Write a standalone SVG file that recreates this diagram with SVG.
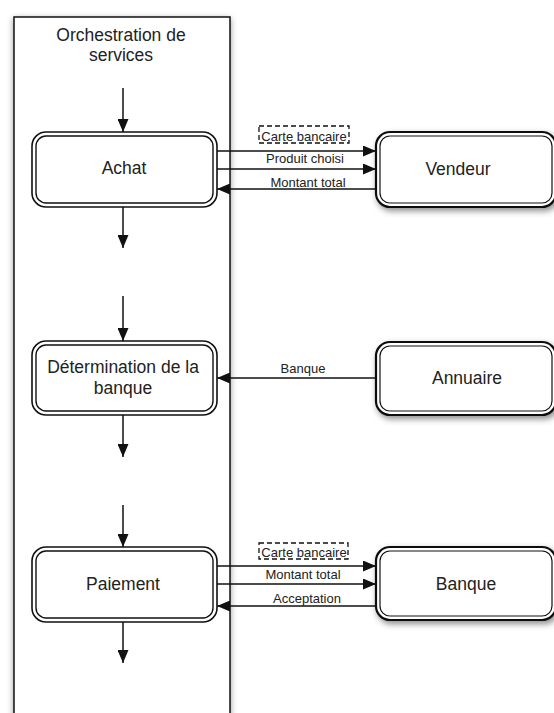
<svg xmlns="http://www.w3.org/2000/svg" width="554" height="713" viewBox="0 0 554 713">
  <style>
    .lbl { font-family: "Liberation Sans", Arial, sans-serif; fill: #222; text-anchor: middle; }
    .main { font-size: 17.5px; }
    .small { font-size: 13px; }
    .outer { fill: #fff; stroke: #111; stroke-width: 1.6; }
    .inner { fill: none; stroke: #111; stroke-width: 1.4; }
    .outerR { fill: #fff; stroke: #111; stroke-width: 2.2; }
    .innerR { fill: none; stroke: #111; stroke-width: 1.2; }
    .flow { stroke: #111; stroke-width: 1.5; fill: none; marker-end: url(#head); }
    .dash { fill: none; stroke: #111; stroke-width: 1.3; stroke-dasharray: 5 3; }
  </style>
  <defs>
    <marker id="head" markerUnits="userSpaceOnUse" markerWidth="14" markerHeight="11" refX="13" refY="5.5" orient="auto">
      <path d="M0,0 L13,5.5 L0,11 z" fill="#111"/>
    </marker>
    <filter id="shadow" x="-20%" y="-20%" width="150%" height="160%">
      <feDropShadow dx="2" dy="3" stdDeviation="3" flood-color="#000" flood-opacity="0.45"/>
    </filter>
    <filter id="laneShadow" x="-10%" y="-5%" width="120%" height="110%">
      <feDropShadow dx="0" dy="2" stdDeviation="3" flood-color="#000" flood-opacity="0.4"/>
    </filter>
  </defs>

  <!-- orchestration lane -->
  <g id="lane">
    <rect x="14" y="17" width="216" height="720" fill="#fff" stroke="#111" stroke-width="1.5" filter="url(#laneShadow)"/>
    <text class="lbl main" x="121" y="41">Orchestration de</text>
    <text class="lbl main" x="121" y="61">services</text>
  </g>

  <!-- steps of the lane -->
  <g id="achat">
    <rect class="outer" x="32" y="132" width="185" height="75" rx="14"/>
    <rect class="inner" x="36" y="136" width="177" height="67" rx="10"/>
    <text class="lbl main" x="124" y="174">Achat</text>
  </g>
  <g id="determination">
    <rect class="outer" x="32" y="341" width="185" height="74" rx="14"/>
    <rect class="inner" x="36" y="345" width="177" height="66" rx="10"/>
    <text class="lbl main" x="123" y="373">Détermination de la</text>
    <text class="lbl main" x="123" y="394">banque</text>
  </g>
  <g id="paiement">
    <rect class="outer" x="32" y="547" width="185" height="75" rx="14"/>
    <rect class="inner" x="36" y="551" width="177" height="67" rx="10"/>
    <text class="lbl main" x="123" y="590">Paiement</text>
  </g>

  <!-- external services -->
  <g id="vendeur">
    <rect class="outerR" x="376" y="132" width="180" height="75" rx="14" filter="url(#shadow)"/>
    <rect class="innerR" x="380" y="136" width="172" height="67" rx="10"/>
    <text class="lbl main" x="458" y="175">Vendeur</text>
  </g>
  <g id="annuaire">
    <rect class="outerR" x="376" y="342" width="180" height="73" rx="14" filter="url(#shadow)"/>
    <rect class="innerR" x="380" y="346" width="172" height="65" rx="10"/>
    <text class="lbl main" x="467" y="384">Annuaire</text>
  </g>
  <g id="banque">
    <rect class="outerR" x="376" y="547" width="180" height="73" rx="14" filter="url(#shadow)"/>
    <rect class="innerR" x="380" y="551" width="172" height="65" rx="10"/>
    <text class="lbl main" x="466" y="590">Banque</text>
  </g>

  <!-- connectors -->
  <g id="connectors">
    <line class="flow" x1="123" y1="88" x2="123" y2="132"/>
    <line class="flow" x1="123" y1="207" x2="123" y2="248"/>
    <line class="flow" x1="123" y1="296" x2="123" y2="341"/>
    <line class="flow" x1="123" y1="415" x2="123" y2="457"/>
    <line class="flow" x1="123" y1="505" x2="123" y2="547"/>
    <line class="flow" x1="123" y1="622" x2="123" y2="663"/>

    <line class="flow" x1="217" y1="151" x2="376" y2="151"/>
    <line class="flow" x1="217" y1="169" x2="376" y2="169"/>
    <line class="flow" x1="376" y1="189" x2="217" y2="189"/>

    <line class="flow" x1="376" y1="378" x2="217" y2="378"/>

    <line class="flow" x1="217" y1="566" x2="376" y2="566"/>
    <line class="flow" x1="217" y1="584" x2="376" y2="584"/>
    <line class="flow" x1="376" y1="606" x2="217" y2="606"/>

    <!-- message labels -->
    <rect class="dash" x="259" y="126" width="90" height="17"/>
    <text class="lbl small" x="304" y="140.5">Carte bancaire</text>
    <text class="lbl small" x="305" y="162.5">Produit choisi</text>
    <text class="lbl small" x="308" y="186.5">Montant total</text>

    <text class="lbl small" x="303" y="373">Banque</text>

    <rect class="dash" x="259" y="543" width="89" height="16"/>
    <text class="lbl small" x="304" y="556.5">Carte bancaire</text>
    <text class="lbl small" x="303" y="579">Montant total</text>
    <text class="lbl small" x="307" y="603">Acceptation</text>
  </g>
</svg>
